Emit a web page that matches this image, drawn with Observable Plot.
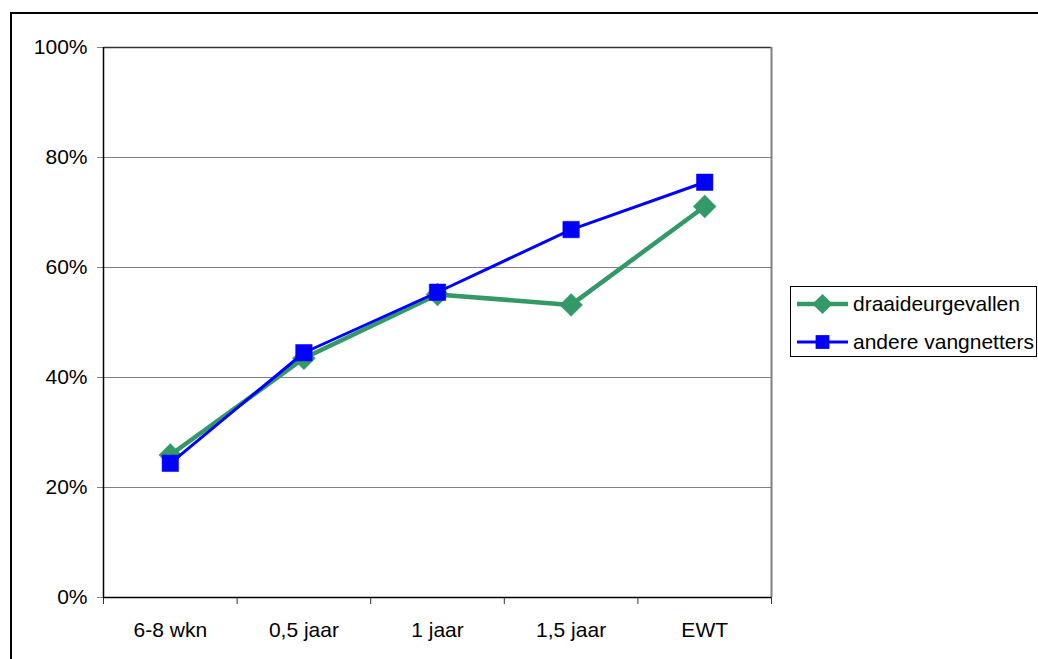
<!DOCTYPE html>
<html>
<head>
<meta charset="utf-8">
<script src="https://cdn.jsdelivr.net/npm/d3@7"></script>
<script src="https://cdn.jsdelivr.net/npm/@observablehq/plot@0.6"></script>
<style>
  html, body { margin: 0; padding: 0; background: #fff; }
  #wrap { position: relative; width: 1038px; height: 659px; overflow: hidden; font-family: "Liberation Sans", Arial, sans-serif; }
  #frame { position: absolute; left: 10px; top: 12px; width: 1100px; height: 700px; border: 2px solid #000; box-sizing: border-box; }
  #chart { position: absolute; left: 0; top: 0; }
  #legend { position: absolute; left: 790px; top: 286px; width: 247px; height: 71px; border: 1px solid #000; box-sizing: border-box; background: #fff; font-size: 21px; color: #000; }
  .row { position: absolute; left: 6px; height: 30px; display: flex; align-items: center; }
  .row svg { margin-right: 5px; }
</style>
</head>
<body>
<div id="wrap">
  <div id="frame"></div>
  <div id="chart"></div>
  <div id="legend"></div>
</div>
<script>
const categories = ["6-8 wkn", "0,5 jaar", "1 jaar", "1,5 jaar", "EWT"];
const draaideurgevallen = [25.9, 43.5, 55.1, 53.2, 71.1];
const andereVangnetters = [24.4, 44.5, 55.5, 66.9, 75.5];
const yTicks = [0, 20, 40, 60, 80, 100];
const seriesNames = ["draaideurgevallen", "andere vangnetters"];
const colors = ["#339966", "#0000FF"];

const data = [];
categories.forEach((c, i) => {
  data.push({series: seriesNames[0], idx: i + 0.5, value: draaideurgevallen[i]});
});
categories.forEach((c, i) => {
  data.push({series: seriesNames[1], idx: i + 0.5, value: andereVangnetters[i]});
});
const green = data.filter(d => d.series === seriesNames[0]);
const blue = data.filter(d => d.series === seriesNames[1]);
const boundaries = d3.range(categories.length + 1);
const centers = categories.map((c, i) => i + 0.5);

const chart = Plot.plot({
  width: 1038,
  height: 659,
  marginLeft: 103,
  marginRight: 267,
  marginTop: 47,
  marginBottom: 62,
  style: {fontFamily: "'Liberation Sans', Arial, sans-serif", fontSize: "21px", background: "transparent", overflow: "visible"},
  x: {type: "linear", domain: [0, categories.length]},
  y: {type: "linear", domain: [0, 100]},
  marks: [
    Plot.ruleY(yTicks.filter(t => t > 0 && t < 100), {stroke: "#808080", strokeWidth: 1.2}),
    Plot.ruleY([100], {stroke: "#333", strokeWidth: 1.5}),
    Plot.ruleX([categories.length], {stroke: "#808080", strokeWidth: 2, y1: 0, y2: 100}),
    Plot.axisY({ticks: yTicks, tickFormat: d => d + "%", tickSize: 6, tickPadding: 10, stroke: "#808080", fill: "#000", label: null, fontSize: 21}),
    Plot.axisX({ticks: boundaries, tickFormat: () => "", tickSize: 7, stroke: "#333", label: null}),
    Plot.axisX({ticks: centers, tickFormat: d => categories[Math.round(d - 0.5)], tickSize: 0, tickPadding: 25, fill: "#000", label: null, fontSize: 21}),
    Plot.ruleX([0], {stroke: "#000", strokeWidth: 1.5, y1: 0, y2: 100}),
    Plot.ruleY([0], {stroke: "#000", strokeWidth: 1.5}),
    Plot.line(green, {x: "idx", y: "value", stroke: colors[0], strokeWidth: 4.5}),
    Plot.dot(green, {x: "idx", y: "value", symbol: "diamond2", r: 10.3, fill: colors[0], stroke: colors[0], strokeWidth: 0.5}),
    Plot.line(blue, {x: "idx", y: "value", stroke: colors[1], strokeWidth: 3}),
    Plot.dot(blue, {x: "idx", y: "value", symbol: "square", r: 9.3, fill: colors[1], stroke: colors[1], strokeWidth: 0.5})
  ]
});
document.getElementById("chart").appendChild(chart);

// Legend
const legend = document.getElementById("legend");
const symbolPaths = [d3.symbol(d3.symbolDiamond2, 260)(), d3.symbol(d3.symbolSquare, 190)()];
const lineWidths = [4.5, 3];
seriesNames.forEach((name, i) => {
  const row = document.createElement("div");
  row.className = "row";
  row.style.top = (i === 0 ? 2 : 40) + "px";
  row.innerHTML = `<svg width="51" height="30"><line x1="0" x2="51" y1="15" y2="15" stroke="${colors[i]}" stroke-width="${lineWidths[i]}"/><path transform="translate(25.5,15)" d="${symbolPaths[i]}" fill="${colors[i]}"/></svg><span>${name}</span>`;
  legend.appendChild(row);
});
</script>
</body>
</html>
